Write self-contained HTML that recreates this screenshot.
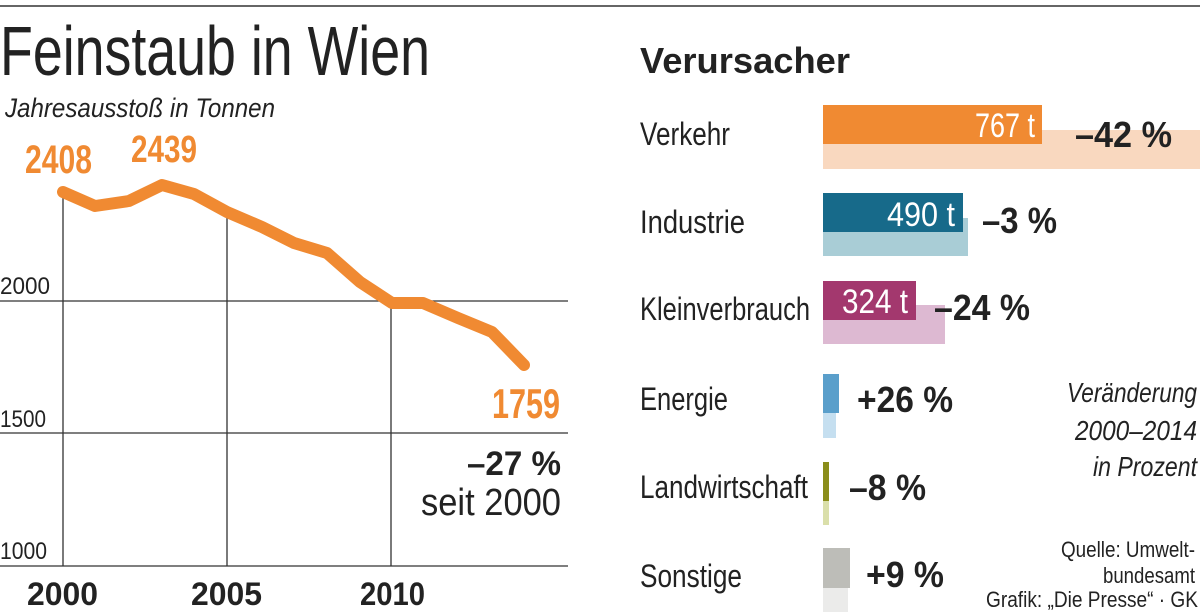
<!DOCTYPE html>
<html><head><meta charset="utf-8"><style>
html,body{margin:0;padding:0;background:#fff;}
svg{display:block;font-family:"Liberation Sans",sans-serif;}
</style></head><body>
<svg width="1200" height="612" viewBox="0 0 1200 612" xmlns="http://www.w3.org/2000/svg">
<line x1="0" y1="6" x2="1200" y2="6" stroke="#333" stroke-width="1.5"/>
<text x="0" y="75" font-size="70" fill="#222" textLength="430" lengthAdjust="spacingAndGlyphs">Feinstaub in Wien</text>
<text x="5" y="117" font-size="27" font-style="italic" fill="#222" textLength="270" lengthAdjust="spacingAndGlyphs">Jahresausstoß in Tonnen</text>
<!-- grid -->
<g stroke="#333" stroke-width="1.3">
<line x1="0" y1="301" x2="568" y2="301"/>
<line x1="0" y1="433" x2="568" y2="433"/>
<line x1="0" y1="566" x2="568" y2="566"/>
<line x1="63" y1="190" x2="63" y2="566"/>
<line x1="227" y1="218" x2="227" y2="566"/>
<line x1="391" y1="300" x2="391" y2="566"/>
</g>
<g font-size="24" fill="#222">
<text x="0" y="294" textLength="50" lengthAdjust="spacingAndGlyphs">2000</text>
<text x="0" y="427" textLength="46" lengthAdjust="spacingAndGlyphs">1500</text>
<text x="0" y="559" textLength="47" lengthAdjust="spacingAndGlyphs">1000</text>
</g>
<g font-size="32" font-weight="bold" fill="#222">
<text x="27" y="605" textLength="71" lengthAdjust="spacingAndGlyphs">2000</text>
<text x="191" y="605" textLength="71" lengthAdjust="spacingAndGlyphs">2005</text>
<text x="360" y="605" textLength="65" lengthAdjust="spacingAndGlyphs">2010</text>
</g>
<polyline fill="none" stroke="#f08a32" stroke-width="12" stroke-linejoin="round" stroke-linecap="round"
points="63,192 95,206 129,201 162,185 194,194 227,212 262,227 294,243 327,253 360,282 392,303 423,303 458,318 492,332 524,365"/>
<g font-weight="bold" fill="#f08a32">
<text x="25" y="173" font-size="40" textLength="67" lengthAdjust="spacingAndGlyphs">2408</text>
<text x="131" y="162" font-size="38" textLength="66" lengthAdjust="spacingAndGlyphs">2439</text>
<text x="492" y="418" font-size="42" textLength="68" lengthAdjust="spacingAndGlyphs">1759</text>
</g>
<text x="467" y="475" font-size="34" font-weight="bold" fill="#222" textLength="94" lengthAdjust="spacingAndGlyphs">–27 %</text>
<text x="421" y="515" font-size="38" fill="#222" textLength="140" lengthAdjust="spacingAndGlyphs">seit 2000</text>

<!-- right -->
<text x="640" y="73" font-size="36" font-weight="bold" fill="#222" textLength="210" lengthAdjust="spacingAndGlyphs">Verursacher</text>
<g font-size="32" fill="#222">
<text x="640" y="145" textLength="90" lengthAdjust="spacingAndGlyphs">Verkehr</text>
<text x="640" y="233" textLength="105" lengthAdjust="spacingAndGlyphs">Industrie</text>
<text x="640" y="320" textLength="170" lengthAdjust="spacingAndGlyphs">Kleinverbrauch</text>
<text x="640" y="410" textLength="88" lengthAdjust="spacingAndGlyphs">Energie</text>
<text x="640" y="498" textLength="168" lengthAdjust="spacingAndGlyphs">Landwirtschaft</text>
<text x="640" y="587" textLength="102" lengthAdjust="spacingAndGlyphs">Sonstige</text>
</g>
<rect x="823" y="130" width="377" height="39" fill="#f9d8bf"/>
<rect x="823" y="105" width="219" height="39" fill="#f08a32"/>
<rect x="823" y="218" width="145" height="38" fill="#a9cdd6"/>
<rect x="823" y="193" width="140" height="39" fill="#176a8a"/>
<rect x="823" y="305" width="122" height="39" fill="#ddb9d2"/>
<rect x="823" y="281" width="93" height="39" fill="#a3386e"/>
<rect x="823" y="413" width="13" height="25" fill="#c5dff0"/>
<rect x="823" y="374" width="16" height="39" fill="#5a9fcb"/>
<rect x="823" y="501" width="6" height="24" fill="#dadfaa"/>
<rect x="823" y="462" width="6" height="39" fill="#8a8d1a"/>
<rect x="823" y="588" width="25" height="24" fill="#ebebea"/>
<rect x="823" y="548" width="27" height="40" fill="#bdbdb8"/>
<g font-size="34" fill="#fff">
<text x="975" y="137" textLength="60" lengthAdjust="spacingAndGlyphs">767 t</text>
<text x="887" y="226" textLength="68" lengthAdjust="spacingAndGlyphs">490 t</text>
<text x="842" y="313" textLength="66" lengthAdjust="spacingAndGlyphs">324 t</text>
</g>
<g font-size="36" font-weight="bold" fill="#222">
<text x="1075" y="147" textLength="97" lengthAdjust="spacingAndGlyphs">–42 %</text>
<text x="982" y="233" textLength="75" lengthAdjust="spacingAndGlyphs">–3 %</text>
<text x="934" y="320" textLength="96" lengthAdjust="spacingAndGlyphs">–24 %</text>
<text x="857" y="412" textLength="96" lengthAdjust="spacingAndGlyphs">+26 %</text>
<text x="849" y="500" textLength="77" lengthAdjust="spacingAndGlyphs">–8 %</text>
<text x="866" y="587" textLength="78" lengthAdjust="spacingAndGlyphs">+9 %</text>
</g>
<g font-size="28" font-style="italic" fill="#222" text-anchor="end">
<text x="1197" y="402" textLength="130" lengthAdjust="spacingAndGlyphs">Veränderung</text>
<text x="1197" y="440" textLength="122" lengthAdjust="spacingAndGlyphs">2000–2014</text>
<text x="1197" y="476" textLength="104" lengthAdjust="spacingAndGlyphs">in Prozent</text>
</g>
<g font-size="22" fill="#222" text-anchor="end">
<text x="1195" y="557" textLength="134" lengthAdjust="spacingAndGlyphs">Quelle: Umwelt-</text>
<text x="1195" y="583" textLength="92" lengthAdjust="spacingAndGlyphs">bundesamt</text>
<text x="1198" y="607" textLength="212" lengthAdjust="spacingAndGlyphs">Grafik: „Die Presse“ · GK</text>
</g>
</svg>
</body></html>
